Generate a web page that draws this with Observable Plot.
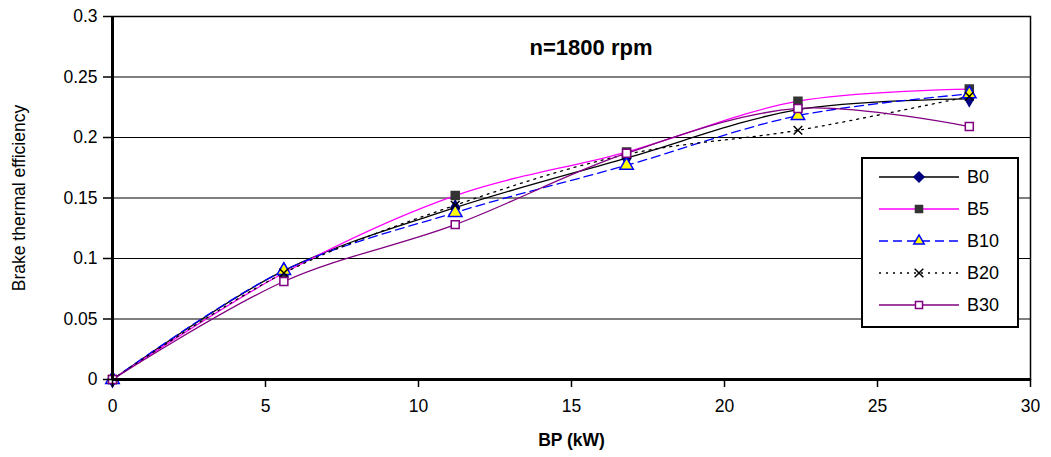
<!DOCTYPE html>
<html>
<head>
<meta charset="utf-8">
<script src="https://cdn.jsdelivr.net/npm/d3@7"></script>
<script src="https://cdn.jsdelivr.net/npm/@observablehq/plot@0.6"></script>
<style>
  html, body { margin: 0; padding: 0; background: #fff; }
  #wrap { position: relative; width: 1051px; height: 457px; font-family: "Liberation Sans", Arial, sans-serif; }
  #title { position: absolute; left: 0; width: 1182px; top: 35px; text-align: center; font-weight: bold; font-size: 22px; }
  g[aria-label="x-axis label"] text { font-weight: bold; }
  #legend { position: absolute; left: 861px; top: 157px; }
</style>
</head>
<body>
<div id="wrap">
  <div id="chart"></div>
  <div id="title">n=1800 rpm</div>
  <div id="legend"></div>
</div>
<script>
// ---- data ----
const bp = [0, 5.6, 11.2, 16.8, 22.4, 28];
const B0  = [0, 0.090, 0.142, 0.183, 0.223, 0.232];
const B5  = [0, 0.088, 0.152, 0.188, 0.230, 0.240];
const B10 = [0, 0.090, 0.138, 0.177, 0.218, 0.236];
const B20 = [0, 0.088, 0.144, 0.186, 0.206, 0.234];
const B30 = [0, 0.081, 0.128, 0.187, 0.224, 0.209];
const seriesNames = ["B0", "B5", "B10", "B20", "B30"];
const xTicks = [0, 5, 10, 15, 20, 25, 30];
const yTicks = [0, 0.05, 0.1, 0.15, 0.2, 0.25, 0.3];

const seriesValues = {B0, B5, B10, B20, B30};
const styles = {
  B0:  {stroke: "#000000", dash: null,  symbol: "diamond",  fill: "#000080", mstroke: "#000080", r: 4.5},
  B5:  {stroke: "#ff00ff", dash: null,  symbol: "square",   fill: "#333333", mstroke: "#333333", r: 4.5},
  B10: {stroke: "#0000ff", dash: "9,5", symbol: "triangle", fill: "#ffff00", mstroke: "#0000ff", r: 5},
  B20: {stroke: "#000000", dash: "2,5", symbol: "times",    fill: "none",    mstroke: "#000000", r: 4},
  B30: {stroke: "#800080", dash: null,  symbol: "square",   fill: "#ffffff", mstroke: "#800080", r: 4.5}
};

const rows = seriesNames.flatMap(s => bp.map((x, i) => ({series: s, bp: x, eff: seriesValues[s][i]})));

const marks = [
  Plot.gridY(yTicks, {stroke: "#000", strokeOpacity: 1, strokeWidth: 1.2}),
  Plot.frame({stroke: "#000", strokeWidth: 1.5}),
];
for (const s of seriesNames) {
  const st = styles[s];
  const d = rows.filter(r => r.series === s);
  marks.push(Plot.line(d, {x: "bp", y: "eff", stroke: st.stroke, strokeWidth: 1.3,
    strokeDasharray: st.dash, curve: "catmull-rom"}));
}
for (const s of seriesNames) {
  const st = styles[s];
  const d = rows.filter(r => r.series === s);
  marks.push(Plot.dot(d, {x: "bp", y: "eff", symbol: () => st.symbol, r: st.r,
    fill: st.fill, stroke: st.mstroke, strokeWidth: 1.5}));
}
marks.push(
  Plot.ruleX([0], {stroke: "#000", strokeWidth: 3}),
  Plot.ruleY([0], {stroke: "#000", strokeWidth: 3}),
  Plot.axisX(xTicks, {tickSize: 8, tickPadding: 12, fontSize: 17.5, stroke: "#000", strokeWidth: 1.5,
    label: "BP (kW)", labelAnchor: "center", labelArrow: "none", labelOffset: 66}),
  Plot.axisY(yTicks, {tickSize: 9, tickPadding: 6, fontSize: 17.5, stroke: "#000", strokeWidth: 1.5,
    tickFormat: d => String(d), label: "Brake thermal efficiency", labelAnchor: "center",
    labelArrow: "none", labelOffset: 100})
);

const chart = Plot.plot({
  width: 1051,
  height: 457,
  marginLeft: 112,
  marginRight: 21,
  marginTop: 16,
  marginBottom: 78,
  style: {fontFamily: "'Liberation Sans', Arial, sans-serif", fontSize: "15px", color: "#000", background: "#fff"},
  x: {domain: [0, 30]},
  y: {domain: [0, 0.3]},
  symbol: {type: "identity"},
  marks
});
document.getElementById("chart").appendChild(chart);

// ---- legend ----
const W = 158, H = 171;
const svg = d3.select("#legend").append("svg").attr("width", W).attr("height", H);
svg.append("rect").attr("x", 1).attr("y", 1).attr("width", W - 2).attr("height", H - 2)
  .attr("fill", "#fff").attr("stroke", "#000").attr("stroke-width", 2);
seriesNames.forEach((s, i) => {
  const st = styles[s];
  const y = 20 + i * 32;
  svg.append("line").attr("x1", 18).attr("x2", 98).attr("y1", y).attr("y2", y)
    .attr("stroke", st.stroke).attr("stroke-width", 1.3)
    .attr("stroke-dasharray", st.dash);
  const sym = {diamond: d3.symbolDiamond2, square: d3.symbolSquare2, triangle: d3.symbolTriangle2, times: d3.symbolTimes}[st.symbol];
  const size = Math.PI * st.r * st.r;
  svg.append("path").attr("d", d3.symbol(sym, size)())
    .attr("transform", `translate(58,${y})`)
    .attr("fill", st.fill).attr("stroke", st.mstroke).attr("stroke-width", 1.5);
  svg.append("text").attr("x", 106).attr("y", y).attr("dy", "0.35em")
    .attr("font-family", "'Liberation Sans', Arial, sans-serif").attr("font-size", 18).text(s);
});
</script>
</body>
</html>
